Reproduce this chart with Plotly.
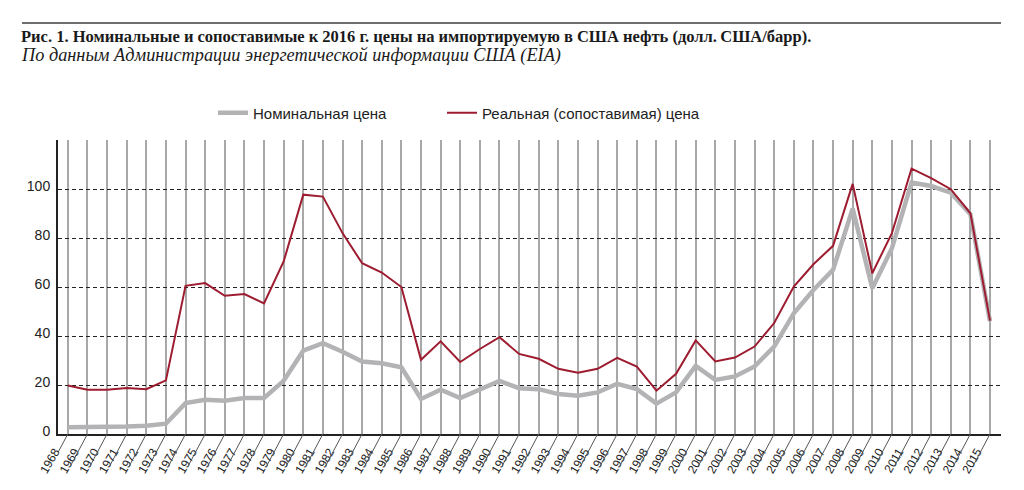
import plotly.graph_objects as go

# US imported crude oil price, nominal and real (2016 dollars), $/bbl
years = list(range(1968, 2016))
nominal = [2.8, 2.8, 3.0, 3.1, 3.4, 4.2, 12.6, 14.0, 13.6, 14.7, 14.7, 21.7,
           34.0, 37.1, 33.6, 29.6, 28.9, 27.2, 14.3, 18.1, 14.7, 18.1,
           21.7, 18.7, 18.3, 16.3, 15.6, 17.0, 20.5, 18.3, 12.4, 17.0,
           27.8, 22.1, 23.5, 27.6, 35.7, 49.3, 58.8, 67.0, 92.0, 59.5,
           75.8, 102.6, 101.2, 98.5, 89.7, 46.0]
real = [19.8, 18.1, 18.1, 18.8, 18.3, 21.9, 60.5, 61.6, 56.4, 57.1, 53.3, 70.4,
        97.7, 96.9, 82.0, 69.7, 65.9, 60.0, 30.3, 37.8, 29.4, 34.7,
        39.5, 32.7, 30.7, 26.6, 25.0, 26.6, 31.1, 27.5, 17.7, 24.6,
        38.2, 29.6, 31.2, 35.7, 45.3, 60.2, 69.3, 76.8, 102.1, 65.6,
        82.0, 108.3, 104.4, 99.9, 90.1, 46.3]
y_ticks = [0, 20, 40, 60, 80, 100, 120]
y_labels = ["0", "20", "40", "60", "80", "100", ""]

title_main = ("Рис. 1. Номинальные и сопоставимые к 2016 г. цены на импортируемую "
              "в США нефть (долл.\u2009США/барр).")
title_sub = "По данным Администрации энергетической информации США (EIA)"

W, H = 1024, 490
L, R, T, B = 58, 23, 140, 56
pw, ph = W - L - R, H - T - B


def fx(p):  # pixel x -> paper
    return (p - L) / pw


def fy(p):  # pixel y (from top) -> paper
    return (H - B - p) / ph


narrow = "Liberation Sans Narrow, Liberation Sans, Arial"
serif = "Liberation Serif, Times New Roman, serif"
leg_font = dict(family="Liberation Sans, Arial", size=15, color="#222")

fig = go.Figure()
fig.add_trace(go.Scatter(x=years, y=nominal, name="Номинальная цена", mode="lines",
                         line=dict(color="#b3b3b5", width=4.5), legend="legend"))
fig.add_trace(go.Scatter(x=years, y=real, name="Реальная (сопоставимая) цена", mode="lines",
                         line=dict(color="#9d1c30", width=2), legend="legend2"))

# slanted tick strokes under the year labels
shapes = [dict(type="line", xref="x", yref="paper", xsizemode="pixel", xanchor=yr,
               x0=0, x1=-17, ysizemode="pixel", yanchor=0, y0=0, y1=-32,
               line=dict(color="#555", width=1)) for yr in years]
# rule above the title
shapes.append(dict(type="line", xref="paper", yref="paper", x0=fx(22), x1=fx(1001),
                   y0=fy(23), y1=fy(23), line=dict(color="#6e6e6e", width=2)))

fig.update_layout(
    width=W, height=H,
    margin=dict(l=L, r=R, t=T, b=B),
    paper_bgcolor="white", plot_bgcolor="white",
    showlegend=True,
    legend=dict(orientation="h", x=fx(213), xanchor="left", y=fy(113), yanchor="middle",
                font=leg_font, bgcolor="rgba(0,0,0,0)"),
    legend2=dict(orientation="h", x=fx(442), xanchor="left", y=fy(113), yanchor="middle",
                 font=leg_font, bgcolor="rgba(0,0,0,0)"),
    shapes=shapes,
    annotations=[
        dict(xref="paper", yref="paper", x=fx(19), y=fy(37), xanchor="left", yanchor="middle",
             text="<b>" + title_main + "</b>", showarrow=False,
             font=dict(family=serif, size=16.5, color="#1a1a1a")),
        dict(xref="paper", yref="paper", x=fx(19), y=fy(55), xanchor="left", yanchor="middle",
             text="<i>" + title_sub + "</i>", showarrow=False,
             font=dict(family=serif, size=18.3, color="#1a1a1a")),
    ],
)

fig.update_xaxes(range=[1967.5, 2015.56], tickvals=years, ticktext=[str(y) for y in years],
                 tickangle=-60, showgrid=True, gridcolor="#a8a8a8", gridwidth=1.5,
                 showline=True, linecolor="#222", linewidth=2, zeroline=False, ticks="",
                 tickfont=dict(family=narrow, size=12, color="#222"),
                 ticklabelshift=-13, ticklabelstandoff=4, automargin=False)
fig.update_yaxes(range=[0, 120], tickvals=y_ticks, ticktext=y_labels,
                 showgrid=True, gridcolor="#222", gridwidth=1, griddash="4px,3px",
                 showline=True, linecolor="#222", linewidth=2, zeroline=False, ticks="",
                 tickfont=dict(family=narrow, size=14, color="#222"),
                 ticklabelstandoff=3, ticklabelshift=-3, automargin=False)

# drop the default page margin so the figure sits at the window origin
fig.write_html("out.html", post_script="document.body.style.margin='0';",
               config={"displayModeBar": False})
